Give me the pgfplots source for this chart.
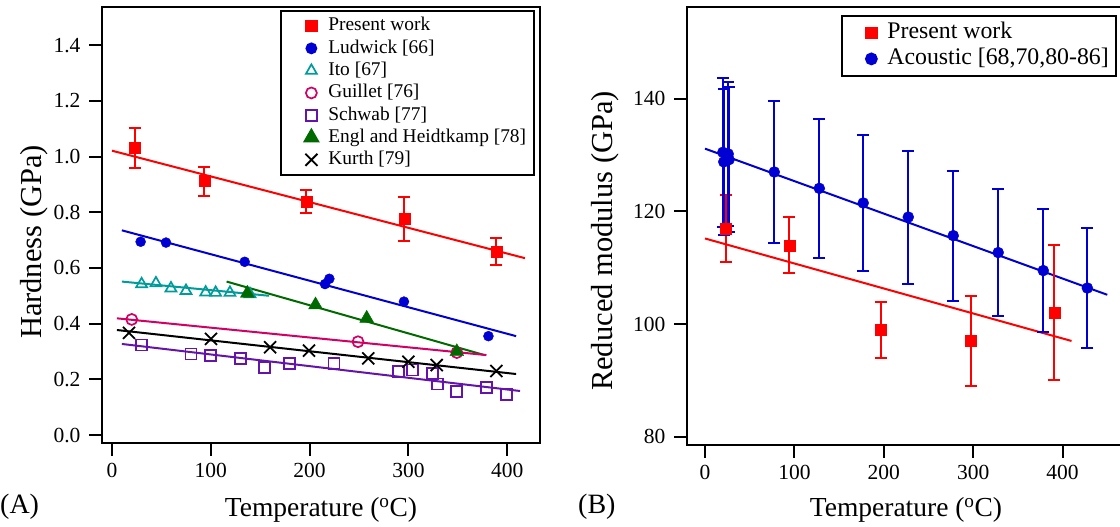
\documentclass[border=0pt]{standalone}
\usepackage{pgfplots}
\pgfplotsset{compat=1.18}
\usepackage{fontspec}
\setmainfont{Liberation Serif}
\definecolor{cred}{RGB}{255,0,0}
\definecolor{cblue}{RGB}{0,0,210}
\definecolor{cteal}{RGB}{0,155,155}
\definecolor{cmag}{RGB}{210,0,100}
\definecolor{cpurp}{RGB}{100,20,170}
\definecolor{cgreen}{RGB}{0,105,0}
\pgfplotsset{
  myax/.style={
    scale only axis, anchor=south west,
    axis line style={line width=2pt},
    every tick/.style={line width=2pt, black},
    major tick length=13pt,
    tick align=outside,
    xtick pos=bottom, ytick pos=left,
    ticklabel style={font=\fontsize{21.5}{24}\selectfont},
    xticklabel style={yshift=-4pt},
    yticklabel style={xshift=-5pt},
  },
  fit/.style={line width=2pt, no marks, forget plot},
  lmA/.style={legend image code/.code={\path[draw=none,fill=none] (0pt,-1pt) rectangle (39pt,1pt);
      \draw[##1, only marks] plot coordinates {(24pt,0pt)};}},
  lmB/.style={legend image code/.code={\path[draw=none,fill=none] (0pt,-1pt) rectangle (38pt,1pt);
      \draw[##1, only marks] plot coordinates {(24pt,0pt)};}},
}
\begin{document}
\begin{tikzpicture}
\path[use as bounding box] (0pt,0pt) rectangle (1120pt,527pt);
% ---------------- (A) ----------------
\begin{axis}[myax, at={(102pt,84pt)}, width=438pt, height=436pt,
  xmin=-10.1, xmax=433.2, ymin=-0.0287, ymax=1.537,
  xtick={0,100,200,300,400}, xticklabels={0,100,200,300,400},
  ytick={0,0.2,0.4,0.6,0.8,1.0,1.2,1.4},
  yticklabels={0.0,0.2,0.4,0.6,0.8,1.0,1.2,1.4},
  legend style={at={(rel axis cs:0.9886,0.9931)}, anchor=north east,
    draw=black, line width=1.8pt, font=\fontsize{19.4}{22}\selectfont,
    inner xsep=6pt, inner ysep=4pt, row sep=0pt,
    nodes={text height=14.5pt, text depth=5pt, inner ysep=1.4pt}},
  legend cell align=left,
]
\addplot[fit, cred] coordinates {(0,1.021) (418,0.635)};
\addplot[fit, cblue] coordinates {(10,0.735) (409,0.355)};
\addplot[fit, cteal] coordinates {(10,0.551) (159,0.500)};
\addplot[fit, cgreen] coordinates {(116,0.551) (377,0.287)};
\addplot[fit, cmag] coordinates {(5,0.419) (379,0.287)};
\addplot[fit, black] coordinates {(5,0.377) (409,0.219)};
\addplot[fit, cpurp] coordinates {(10,0.327) (413,0.158)};

\addplot[only marks, lmA, mark=square*, color=cred, mark size=5.5pt,
  error bars/.cd, y dir=both, y explicit,
  error bar style={line width=2pt},
  error mark options={rotate=90, mark size=6pt, line width=2pt}] coordinates {
 (23,1.032) +- (0,0.072)
 (93.4,0.912) +- (0,0.052)
 (196.7,0.839) +- (0,0.041)
 (296,0.776) +- (0,0.080)
 (389,0.658) +- (0,0.049)
};
\addlegendentry{Present work}
\addplot[only marks, lmA, mark=*, color=cblue, mark size=5pt] coordinates {
 (29,0.694) (54.7,0.691) (134.3,0.622) (215.6,0.542) (220,0.561) (295.5,0.479) (381,0.355)
};
\addlegendentry{Ludwick [66]}
\addplot[only marks, lmA, mark=triangle, color=cteal, mark size=6.3pt, mark options={line width=1.7pt}] coordinates {
 (30,0.542) (44.5,0.545) (59.7,0.527) (74.9,0.518) (94.8,0.512) (104.9,0.511) (119.4,0.511) (139.7,0.506)
};
\addlegendentry{Ito [67]}
\addplot[only marks, lmA, mark=o, color=cmag, mark size=5.5pt, mark options={line width=1.7pt}] coordinates {
 (20,0.415) (249,0.335) (349,0.296)
};
\addlegendentry{Guillet [76]}
\addplot[only marks, lmA, mark=square, color=cpurp, mark size=5.5pt, mark options={line width=1.7pt}] coordinates {
 (30,0.323) (80,0.291) (99.9,0.285) (130.3,0.274) (154.2,0.243) (179.5,0.257) (224.7,0.257)
 (289.8,0.227) (304.3,0.233) (324.2,0.221) (329.6,0.183) (349,0.156) (379,0.170) (399.5,0.146)
};
\addlegendentry{Schwab [77]}
\addplot[only marks, lmA, mark=triangle*, color=cgreen, mark size=8pt] coordinates {
 (137,0.509) (206,0.467) (257.8,0.419) (349,0.299)
};
\addlegendentry{Engl and Heidtkamp [78]}
\addplot[only marks, lmA, mark=x, color=black, mark size=8.5pt, mark options={line width=1.8pt}] coordinates {
 (17.2,0.367) (100.2,0.345) (160,0.315) (199.4,0.303) (259.4,0.275) (300,0.263) (328.6,0.251) (389,0.230)
};
\addlegendentry{Kurth [79]}
\end{axis}
% ---------------- (B) ----------------
\begin{axis}[myax, at={(687pt,82pt)}, width=437pt, height=438pt,
  xmin=-20.1, xmax=468.7, ymin=78.53, ymax=156.3,
  xtick={0,100,200,300,400}, xticklabels={0,100,200,300,400},
  ytick={80,100,120,140}, yticklabels={80,100,120,140},
  legend style={at={(rel axis cs:0.9833,0.9817)}, anchor=north east,
    draw=black, line width=1.8pt, font=\fontsize{23.8}{26}\selectfont,
    inner xsep=5pt, inner ysep=4pt, row sep=0pt,
    nodes={text height=17pt, text depth=6pt, inner ysep=1.5pt}},
  legend cell align=left,
]
\addplot[fit, cblue] coordinates {(0,131.15) (450,105.2)};
\addplot[fit, cred] coordinates {(0,115.2) (410,97.0)};
\addplot[only marks, lmB, mark=square*, color=cred, mark size=5.5pt,
  error bars/.cd, y dir=both, y explicit,
  error bar style={line width=2pt},
  error mark options={rotate=90, mark size=6pt, line width=2pt}] coordinates {
 (23.5,117.0) +- (0,6)
 (94.3,114.0) +- (0,5)
 (196.9,99.0) +- (0,5)
 (297.5,97.0) +- (0,8)
 (390.7,102.0) +- (0,12)
};
\addlegendentry{Present work}
\addplot[only marks, lmB, mark=*, color=cblue, mark size=5.5pt,
  error bars/.cd, y dir=both, y explicit,
  error bar style={line width=2pt},
  error mark options={rotate=90, mark size=6pt, line width=2pt}] coordinates {
 (20,130.5) +- (0,13.2)
 (21,128.8) +- (0,12.9)
 (26,130.2) +- (0,12.7)
 (27,129.2) +- (0,12.9)
 (77.5,127.0) +- (0,12.6)
 (127.9,124.1) +- (0,12.35)
 (177,121.5) +- (0,12.1)
 (227.4,119.0) +- (0,11.8)
 (277.7,115.7) +- (0,11.55)
 (328,112.7) +- (0,11.3)
 (378.4,109.5) +- (0,10.9)
 (427.7,106.4) +- (0,10.6)
};
\addlegendentry{Acoustic [68,70,80-86]}
\end{axis}
% ---------------- labels ----------------
\node[rotate=90, font=\fontsize{30.5}{32}\selectfont] at (34pt,285pt) {Hardness (GPa)};
\node[rotate=90, font=\fontsize{30.5}{32}\selectfont] at (605pt,286pt) {Reduced modulus (GPa)};
\node[anchor=base, font=\fontsize{27.5}{30}\selectfont] at (321pt,10.3pt) {Temperature ($^{\mathrm{o}}$C)};
\node[anchor=base, font=\fontsize{27.5}{30}\selectfont] at (906pt,10.3pt) {Temperature ($^{\mathrm{o}}$C)};
\node[anchor=base west, inner sep=0pt, font=\fontsize{28}{30}\selectfont] at (0pt,13pt) {(A)};
\node[anchor=base west, inner sep=0pt, font=\fontsize{28}{30}\selectfont] at (578pt,13pt) {(B)};
\end{tikzpicture}
\end{document}
